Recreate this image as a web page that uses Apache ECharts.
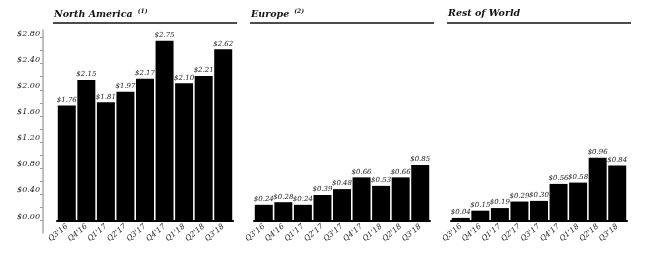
<!DOCTYPE html>
<html><head><meta charset="utf-8">
<script src="https://cdn.jsdelivr.net/npm/echarts@6/dist/echarts.min.js"></script>
<style>html,body{margin:0;padding:0;background:#fff}#c{width:660px;height:254px}</style>
</head><body><div id="c"></div>
<script>
var categories = ["Q3'16","Q4'16","Q1'17","Q2'17","Q3'17","Q4'17","Q1'18","Q2'18","Q3'18"];
var northAmerica = [1.76,2.15,1.81,1.97,2.17,2.75,2.10,2.21,2.62];
var europe = [0.24,0.28,0.24,0.39,0.48,0.66,0.53,0.66,0.85];
var restOfWorld = [0.04,0.15,0.19,0.29,0.30,0.56,0.58,0.96,0.84];
var panelTitles = ["North America","Europe","Rest of World"];
var panelNotes = ["(1)","(2)",""];
var yMin = 0, yMax = 2.8, yStep = 0.4;

var FONT = "DejaVu Serif";
var chart = echarts.init(document.getElementById('c'));
var grids = [
  {left:57, right:427, top:37.5, bottom:33.5},
  {left:254, right:230, top:37.5, bottom:33.5},
  {left:451, right:33, top:37.5, bottom:33.5},
  {left:43, width:1, top:30, bottom:21}
];
var panelLeft = [53, 250, 447];
var panelRight = [237, 434, 631];
var seriesData = [northAmerica, europe, restOfWorld];

var xAxes = [], yAxes = [], series = [], titles = [], graphics = [];
for (var i = 0; i < 3; i++) {
  xAxes.push({
    type:'category', gridIndex:i, data:categories,
    axisLine:{show:true, lineStyle:{color:'#000', width:2}},
    axisTick:{show:false},
    axisLabel:{interval:0, rotate:40, margin:5, fontFamily:FONT, fontStyle:'italic', fontSize:7.5, color:'#222'}
  });
  yAxes.push({
    type:'value', gridIndex:i, min:yMin, max:yMax, interval:yStep, offset:14,
    show: i === 0,
    splitLine:{show:false},
    axisLine:{show:false},
    axisTick:{show:true, length:3, lineStyle:{color:'#999', width:1}},
    minorTick:{show:true, splitNumber:2, length:3, lineStyle:{color:'#999', width:1}},
    axisLabel:{margin:3, verticalAlign:'bottom', fontFamily:FONT, fontStyle:'italic', fontSize:8, color:'#222',
      formatter:function(v){return '$' + v.toFixed(2);}}
  });
  series.push({
    type:'bar', xAxisIndex:i, yAxisIndex:i, data:seriesData[i],
    barCategoryGap:'8%',
    itemStyle:{color:'#000'},
    label:{show:true, position:'top', distance:2, fontFamily:FONT, fontStyle:'italic', fontSize:7, color:'#222',
      formatter:function(p){return '$' + p.value.toFixed(2);}}
  });
  titles.push({
    left: panelLeft[i] - 4, top: 1,
    text: '{a|' + panelTitles[i] + '}' + (panelNotes[i] ? ' {b|' + panelNotes[i] + '}' : ''),
    textStyle:{rich:{
      a:{fontFamily:FONT, fontStyle:'italic', fontWeight:'bold', fontSize:9.5, lineHeight:16, color:'#111'},
      b:{fontFamily:FONT, fontStyle:'italic', fontSize:6, lineHeight:16, verticalAlign:'top', padding:[2,0,0,0], color:'#111'}
    }}
  });
  graphics.push({type:'line', shape:{x1:panelLeft[i], y1:23, x2:panelRight[i], y2:23}, style:{stroke:'#111', lineWidth:1.5}});
}
xAxes.push({type:'category', gridIndex:3, data:[], show:false});
yAxes.push({type:'value', gridIndex:3, min:0, max:1, axisLine:{show:true, lineStyle:{color:'#aaa', width:1.5}},
  axisTick:{show:false}, axisLabel:{show:false}, splitLine:{show:false}});

chart.setOption({
  animation:false,
  title: titles,
  grid: grids,
  xAxis: xAxes,
  yAxis: yAxes,
  series: series,
  graphic: graphics
});
</script></body></html>
